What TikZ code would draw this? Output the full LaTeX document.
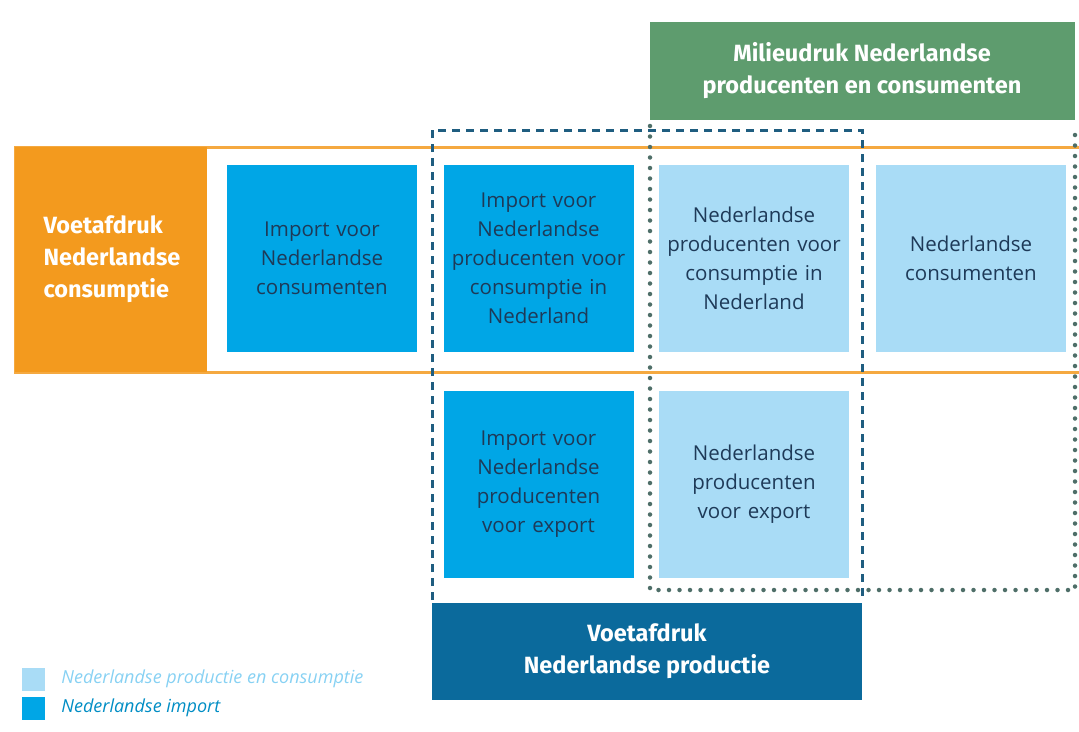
\documentclass[tikz,border=0pt]{standalone}
\usepackage{fontspec}
\setmainfont{Open Sans}
\newfontfamily\hdfont{Fira Sans}
\usetikzlibrary{positioning}
\definecolor{impblue}{HTML}{00A6E6}
\definecolor{nlblue}{HTML}{A9DCF6}
\definecolor{orng}{HTML}{F39A1E}
\definecolor{orngline}{HTML}{F5A940}
\definecolor{grn}{HTML}{5E9C6E}
\definecolor{dkblue}{HTML}{0B6A9C}
\definecolor{frameblue}{HTML}{1F5D80}
\definecolor{dotgray}{HTML}{4E6E68}
\definecolor{txt}{HTML}{1E3A58}
\tikzset{
  cell/.style={minimum width=188pt, minimum height=187pt, inner sep=2pt, align=center,
    text=txt, font=\fontsize{20.5}{29}\selectfont, text width=186pt},
  impcell/.style={cell, fill=impblue},
  nlcell/.style={cell, fill=nlblue},
  hdtext/.style={text=white, font=\hdfont\bfseries\fontsize{23.5}{32}\selectfont, align=center},
  dashframe/.style={draw=frameblue, line width=3pt, dash pattern=on 8pt off 6pt},
  dotframe/.style={draw=dotgray, line width=4.5pt, dash pattern=on 0pt off 10.5pt, line cap=round},
  legendtext/.style={font=\itshape\fontsize{18}{20}\selectfont, anchor=west, inner sep=0pt}
}
\begin{document}
\begin{tikzpicture}[x=1pt,y=-1pt]
\useasboundingbox (0,0) rectangle (1079,731);
\clip (0,0) rectangle (1079,731);
% green header box
\node[fill=grn, minimum width=425pt, minimum height=98pt, inner sep=0pt] (milieubox) at (862.5,71) {};
\node[hdtext] (milieu) at (862,71) {Milieudruk Nederlandse\\producenten en consumenten};
% orange band
\draw[orngline, line width=3pt] (15,147) rectangle (1090,372);
\node[fill=orng, minimum width=192pt, minimum height=225pt, inner sep=0pt] (cons) at (111,259.5) {};
\node[hdtext, align=left, anchor=west] (constext) at (40,259.5) {Voetafdruk\\Nederlandse\\consumptie};
% cells
\node[impcell] (c1) at (322,258.5) {Import voor\\Nederlandse\\consumenten};
\node[impcell] (c2) at (538.5,258.5) {Import voor\\Nederlandse\\producenten voor\\consumptie in\\Nederland};
\node[nlcell] (c3) at (754,258.5) {Nederlandse\\producenten voor\\consumptie in\\Nederland};
\node[nlcell] (c4) at (971,258.5) {Nederlandse\\consumenten};
\node[impcell] (c5) at (538.5,484) {Import voor\\Nederlandse\\producenten\\voor export};
\node[nlcell] (c6) at (754,484) {Nederlandse\\producenten\\voor export};
% green dotted frame
\draw[dotframe] (650,126) -- (650,590) -- (1075,590) -- (1075,126);
% dark blue dashed frame
\draw[dashframe] (432,600) -- (432,130) -- (862,130) -- (862,600);
% dark blue footer box
\node[fill=dkblue, minimum width=430pt, minimum height=97pt, inner sep=0pt] (prodbox) at (647,651.5) {};
\node[hdtext] (prod) at (647,651) {Voetafdruk\\Nederlandse productie};
% legend
\node[fill=nlblue, minimum size=23pt, inner sep=0pt] (lg1) at (33.5,679) {};
\node[legendtext, text=nlblue!80!impblue, right=16pt of lg1.east, anchor=west] (lt1) {Nederlandse productie en consumptie};
\node[fill=impblue, minimum size=23pt, inner sep=0pt] (lg2) at (33.5,708) {};
\node[legendtext, text=impblue!85!black, right=16pt of lg2.east, anchor=west] (lt2) {Nederlandse import};
\end{tikzpicture}
\end{document}
